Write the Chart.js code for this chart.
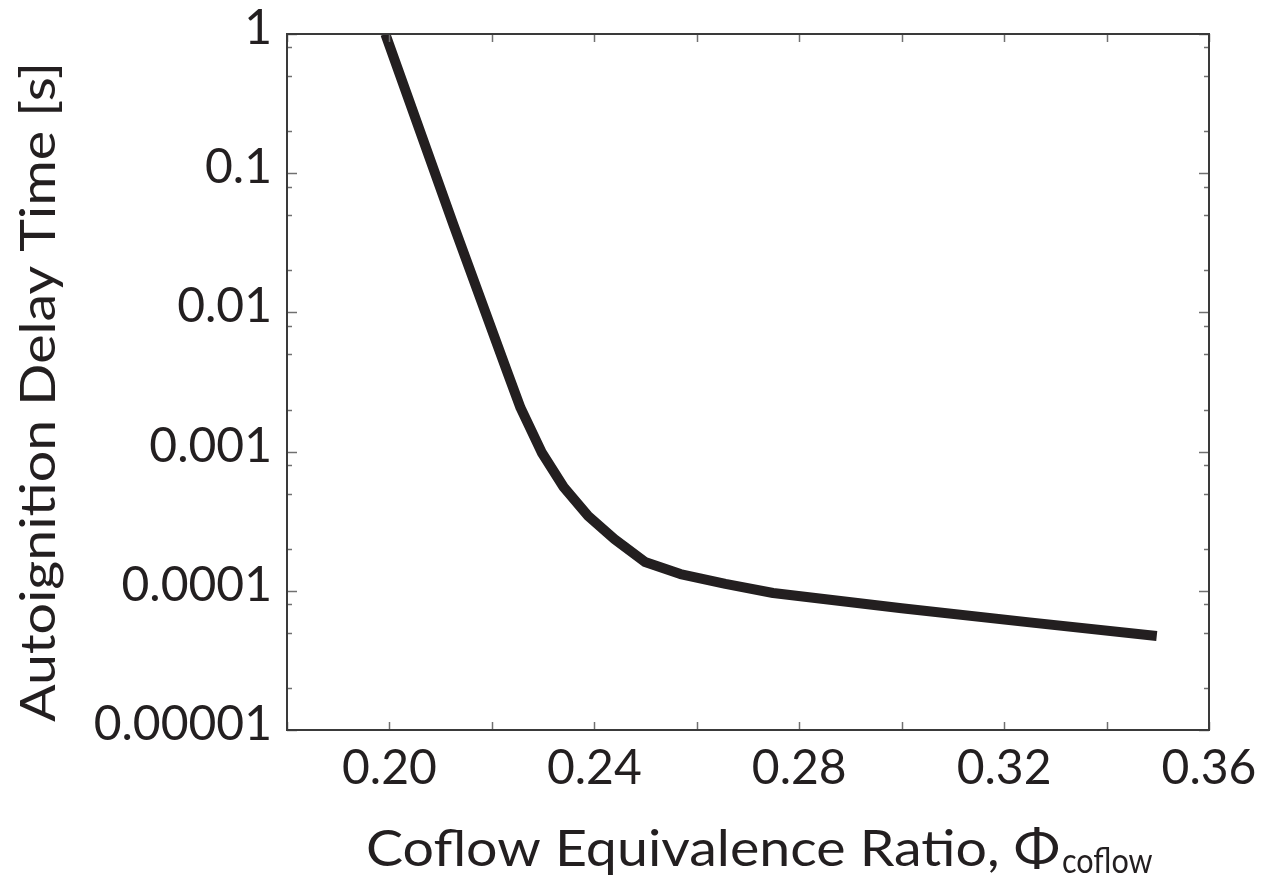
<!DOCTYPE html>
<html>
<head>
<meta charset="utf-8">
<script src="https://cdn.jsdelivr.net/npm/chart.js@4/dist/chart.umd.min.js"></script>
<style>
  body { margin: 0; background: #fff; }
  canvas { display: block; }
</style>
</head>
<body>
<canvas id="chart" width="1269" height="879"></canvas>
<script>
// values
const phi   = [0.1992, 0.2125, 0.2230, 0.2256, 0.2297, 0.2340, 0.2388, 0.2439, 0.2499, 0.2568, 0.2656, 0.2749, 0.3000, 0.3250, 0.3498];
const delay = [1.0, 0.0425, 0.00373, 0.00206, 0.00099, 0.000557, 0.000345, 0.000236, 0.000161, 0.000132, 0.000112, 0.0000964, 0.0000750, 0.0000593, 0.0000474];

const xTickValues = [0.18, 0.20, 0.22, 0.24, 0.26, 0.28, 0.30, 0.32, 0.34, 0.36];
const xTickLabels = ['', '0.20', '', '0.24', '', '0.28', '', '0.32', '', '0.36'];
const yTickValues = [1, 0.1, 0.01, 0.001, 0.0001, 0.00001];
const yTickLabels = ['1', '0.1', '0.01', '0.001', '0.0001', '0.00001'];
const yMinorFactors = [2, 5, 8];

const xTitle = 'Coflow Equivalence Ratio, \u03A6';
const xTitleSub = 'coflow';
const yTitle = 'Autoignition Delay Time [s]';

const FONT = 'Lato, "Open Sans", sans-serif';
const INK = '#231f20';

// text with horizontal squeeze, to get near the Calibri look
function drawText(ctx, str, x, y, size, align, sx) {
    ctx.save();
    ctx.font = size + 'px ' + FONT;
    ctx.translate(x, y);
    ctx.scale(sx, 1);
    ctx.textAlign = align;
    ctx.textBaseline = 'alphabetic';
    ctx.fillText(str, 0, 0);
    ctx.restore();
}

function seg(ctx, x1, y1, x2, y2) {
    ctx.beginPath();
    ctx.moveTo(x1, y1);
    ctx.lineTo(x2, y2);
    ctx.stroke();
}

// frame, inward ticks, labels and titles
const framePlugin = {
    id: 'frame',
    afterDraw(chart) {
        const ctx = chart.ctx;
        const a = chart.chartArea;
        const x = chart.scales.x, y = chart.scales.y;
        ctx.save();

        ctx.strokeStyle = '#707070';
        ctx.lineWidth = 1.5;
        xTickValues.forEach(v => {
            const px = Math.round(x.getPixelForValue(v)) + 0.5;
            seg(ctx, px, a.bottom, px, a.bottom - 8);
            seg(ctx, px, a.top, px, a.top + 8);
        });
        yTickValues.forEach(v => {
            const py = Math.round(y.getPixelForValue(v)) + 0.5;
            seg(ctx, a.left, py, a.left + 10, py);
            seg(ctx, a.right, py, a.right - 10, py);
            if (v < 1) {
                yMinorFactors.forEach(f => {
                    const my = Math.round(y.getPixelForValue(v * f)) + 0.5;
                    seg(ctx, a.left, my, a.left + 5, my);
                    seg(ctx, a.right, my, a.right - 5, my);
                });
            }
        });

        ctx.strokeStyle = '#3a3a3a';
        ctx.lineWidth = 2;
        ctx.strokeRect(a.left, a.top, a.right - a.left, a.bottom - a.top);

        ctx.fillStyle = INK;
        yTickValues.forEach((v, i) => {
            drawText(ctx, yTickLabels[i], a.left - 15, y.getPixelForValue(v) + 10, 48, 'right', 1.0);
        });
        xTickValues.forEach((v, i) => {
            if (xTickLabels[i]) drawText(ctx, xTickLabels[i], x.getPixelForValue(v), 784, 48, 'center', 1.0);
        });

        // x title with subscript
        ctx.font = '50px ' + FONT;
        const wMain = ctx.measureText(xTitle).width;
        const mainW = 694;
        drawText(ctx, xTitle, 366, 866, 50, 'left', mainW / wMain);
        drawText(ctx, xTitleSub, 366 + mainW + 2, 873, 34, 'left', 0.9);

        // y title, rotated
        ctx.font = '49px ' + FONT;
        const wY = ctx.measureText(yTitle).width;
        ctx.save();
        ctx.translate(55, 392);
        ctx.rotate(-Math.PI / 2);
        drawText(ctx, yTitle, 0, 0, 49, 'center', 660 / wY);
        ctx.restore();

        ctx.restore();
    }
};

const theChart = new Chart(document.getElementById('chart'), {
    type: 'line',
    data: {
        datasets: [{
            data: phi.map((p, i) => ({ x: p, y: delay[i] })),
            borderColor: INK,
            borderWidth: 10,
            borderCapStyle: 'butt',
            borderJoinStyle: 'round',
            pointRadius: 0,
            tension: 0,
            fill: false,
            clip: 0
        }]
    },
    options: {
        responsive: false,
        animation: false,
        layout: { padding: { left: 0, top: 34, right: 60, bottom: 0 } },
        plugins: { legend: { display: false }, tooltip: { enabled: false } },
        scales: {
            x: {
                type: 'linear',
                min: 0.18,
                max: 0.36,
                grid: { display: false },
                border: { display: false },
                ticks: { display: false },
                afterFit(s) { s.height = 149; }
            },
            y: {
                type: 'logarithmic',
                min: 0.00001,
                max: 1,
                grid: { display: false },
                border: { display: false },
                ticks: { display: false },
                afterFit(s) { s.width = 287; }
            }
        }
    },
    plugins: [framePlugin]
});
</script>
</body>
</html>
